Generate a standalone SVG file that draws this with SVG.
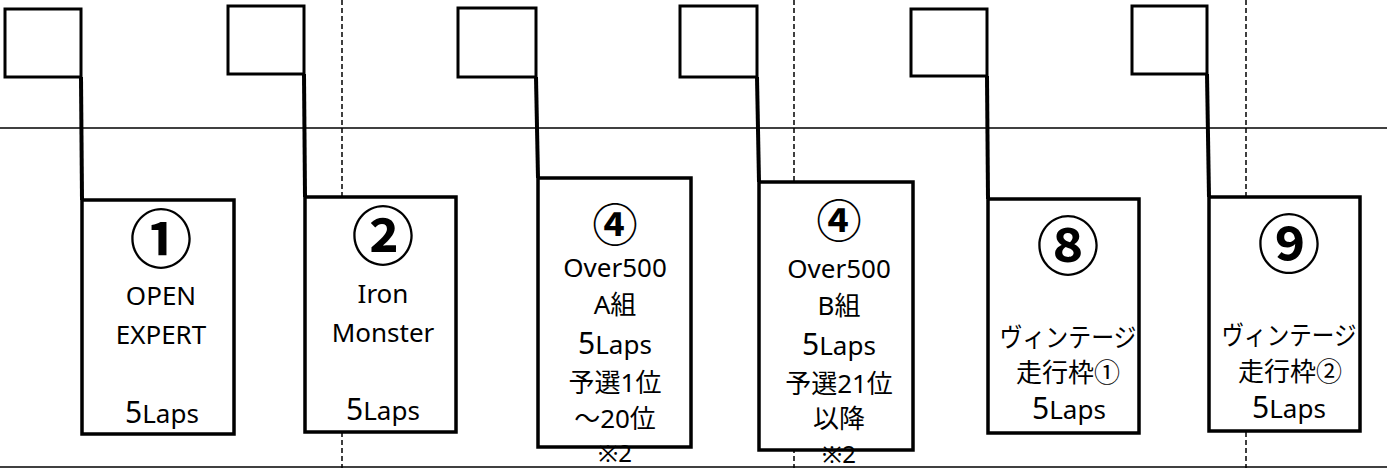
<svg xmlns="http://www.w3.org/2000/svg" width="1387" height="468" viewBox="0 0 1387 468">
<style>
.bg{fill:#fff}
.rule{stroke:#000;stroke-width:1.5;fill:none}
.dash{stroke:#000;stroke-width:1.5;stroke-dasharray:5 3;fill:none}
.flag{fill:#fff;stroke:#000;stroke-width:3;stroke-linejoin:miter}
.stem{stroke:#000;stroke-width:4;fill:none}
.box{fill:#fff;stroke:#000;stroke-width:3.5}
text{font-family:"Noto Sans","Noto Sans CJK JP",sans-serif;font-size:26px;fill:#000;text-anchor:middle}
.big5{font-size:30px}
.note{font-size:24px}
.num{font-family:"Noto Sans CJK JP",sans-serif;font-weight:bold;font-size:63px}
.num4{font-family:"Noto Sans CJK JP",sans-serif;font-weight:bold;font-size:45px}
</style>
<rect class="bg" x="0" y="0" width="1387" height="468"/>
<g id="connectors">
<line class="rule" x1="0" y1="128" x2="1387" y2="128"/>
<line class="rule" x1="0" y1="467" x2="1387" y2="467"/>
<line class="dash" x1="342" y1="0" x2="342" y2="468"/>
<line class="dash" x1="794" y1="0" x2="794" y2="468"/>
<line class="dash" x1="1246" y1="0" x2="1246" y2="468"/>
</g>
<g id="node1">
<rect class="flag" x="5" y="9" width="76" height="68"/>
<path class="stem" d="M81,77 L82,200"/>
<rect class="box" x="82" y="200" width="152" height="234"/>
<text class="num" x="161" y="262">①</text>
<text x="161" y="305">OPEN</text>
<text x="161" y="344" font-size="27">EXPERT</text>
<text x="162" y="423"><tspan class="big5">5</tspan>Laps</text>
</g>
<g id="node2">
<rect class="flag" x="228" y="6" width="76" height="68"/>
<path class="stem" d="M304,74 L305,197"/>
<rect class="box" x="305" y="197" width="151" height="235"/>
<text class="num" x="383" y="259">②</text>
<text x="383" y="303">Iron</text>
<text x="383" y="342" font-size="27">Monster</text>
<text x="383" y="420"><tspan class="big5">5</tspan>Laps</text>
</g>
<g id="node3">
<rect class="flag" x="458" y="8" width="78" height="69"/>
<path class="stem" d="M536,77 L538,178"/>
<rect class="box" x="538" y="178" width="153" height="269"/>
<text class="num4" x="615" y="242">④</text>
<text x="615" y="277">Over500</text>
<text x="615" y="314">A組</text>
<text x="615" y="354"><tspan class="big5">5</tspan>Laps</text>
<text x="615" y="392">予選1位</text>
<text x="615" y="428">～20位</text>
<text class="note" x="615" y="462">※2</text>
</g>
<g id="node4">
<rect class="flag" x="680" y="6" width="77" height="71"/>
<path class="stem" d="M757,77 L759,182"/>
<rect class="box" x="759" y="182" width="154" height="268"/>
<text class="num4" x="839" y="238">④</text>
<text x="839" y="278">Over500</text>
<text x="839" y="315">B組</text>
<text x="839" y="355"><tspan class="big5">5</tspan>Laps</text>
<text x="839" y="393">予選21位</text>
<text x="839" y="428">以降</text>
<text class="note" x="839" y="463">※2</text>
</g>
<g id="node5">
<rect class="flag" x="911" y="9" width="76" height="67"/>
<path class="stem" d="M987,76 L988,199"/>
<rect class="box" x="988" y="199" width="151" height="234"/>
<text class="num" x="1068" y="269">⑧</text>
<text x="1068" y="347" textLength="137" lengthAdjust="spacingAndGlyphs">ヴィンテージ</text>
<text x="1068" y="382" font-size="25">走行枠①</text>
<text x="1069" y="419"><tspan class="big5">5</tspan>Laps</text>
</g>
<g id="node6">
<rect class="flag" x="1132" y="6" width="75" height="68"/>
<path class="stem" d="M1207,74 L1209,197"/>
<rect class="box" x="1209" y="197" width="151" height="234"/>
<text class="num" x="1289" y="267">⑨</text>
<text x="1289" y="345" textLength="135" lengthAdjust="spacingAndGlyphs">ヴィンテージ</text>
<text x="1290" y="381" font-size="25">走行枠②</text>
<text x="1289" y="418"><tspan class="big5">5</tspan>Laps</text>
</g>
</svg>
